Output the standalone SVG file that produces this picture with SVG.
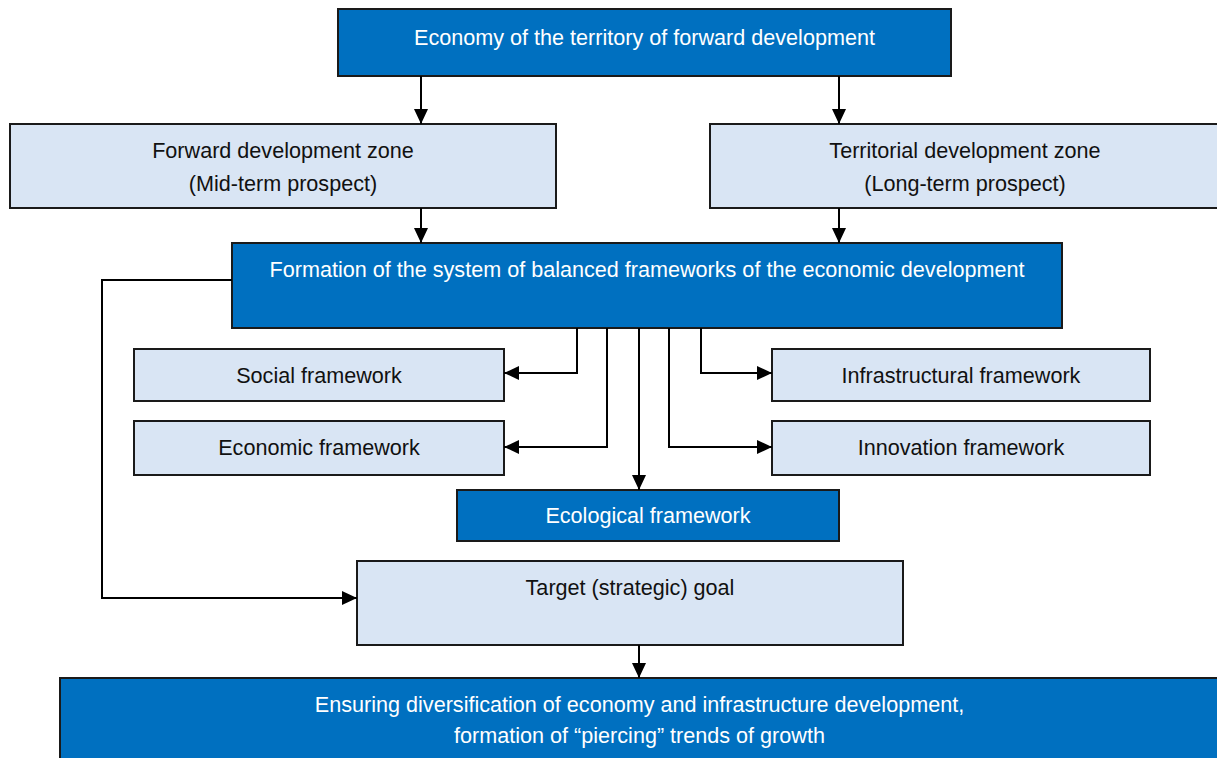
<svg xmlns="http://www.w3.org/2000/svg" width="1217" height="758" viewBox="0 0 1217 758">
<style>
  .dark{fill:#0070C0;stroke:#1a1a1a;stroke-width:2}
  .light{fill:#D9E5F4;stroke:#1a1a1a;stroke-width:2}
  text{font-family:"Liberation Sans",Arial,sans-serif;font-size:21.6px;text-anchor:middle}
  .tw{fill:#ffffff}
  .tb{fill:#111111}
  .conn{fill:none;stroke:#000;stroke-width:2}
</style>
<defs>
  <marker id="arr" markerUnits="userSpaceOnUse" markerWidth="15" markerHeight="14" refX="15" refY="7" orient="auto">
    <path d="M0,0 L15,7 L0,14 Z" fill="#000"/>
  </marker>
</defs>
<rect x="0" y="0" width="1217" height="758" fill="#ffffff"/>

<g id="n-economy">
  <rect class="dark" x="338" y="9" width="613" height="67"/>
  <text class="tw" x="644.5" y="45">Economy of the territory of forward development</text>
</g>
<g id="n-forward">
  <rect class="light" x="10" y="124" width="546" height="84"/>
  <text class="tb" x="283" y="158">Forward development zone</text>
  <text class="tb" x="283" y="191">(Mid-term prospect)</text>
</g>
<g id="n-territorial">
  <rect class="light" x="710" y="124" width="510" height="84"/>
  <text class="tb" x="965" y="158">Territorial development zone</text>
  <text class="tb" x="965" y="191">(Long-term prospect)</text>
</g>
<g id="n-formation">
  <rect class="dark" x="232" y="243" width="830" height="85"/>
  <text class="tw" x="647" y="277">Formation of the system of balanced frameworks of the economic development</text>
</g>
<g id="n-social">
  <rect class="light" x="134" y="349" width="370" height="52"/>
  <text class="tb" x="319" y="383">Social framework</text>
</g>
<g id="n-economic">
  <rect class="light" x="134" y="421" width="370" height="54"/>
  <text class="tb" x="319" y="455">Economic framework</text>
</g>
<g id="n-infra">
  <rect class="light" x="772" y="349" width="378" height="52"/>
  <text class="tb" x="961" y="383">Infrastructural framework</text>
</g>
<g id="n-innovation">
  <rect class="light" x="772" y="421" width="378" height="54"/>
  <text class="tb" x="961" y="455">Innovation framework</text>
</g>
<g id="n-ecological">
  <rect class="dark" x="457" y="490" width="382" height="51"/>
  <text class="tw" x="648" y="523">Ecological framework</text>
</g>
<g id="n-target">
  <rect class="light" x="357" y="561" width="546" height="84"/>
  <text class="tb" x="630" y="595">Target (strategic) goal</text>
</g>
<g id="n-ensuring">
  <rect class="dark" x="60" y="678" width="1160" height="90"/>
  <text class="tw" x="639.5" y="712">Ensuring diversification of economy and infrastructure development,</text>
  <text class="tw" x="639.5" y="743">formation of “piercing” trends of growth</text>
</g>

<g id="connectors">
  <path class="conn" d="M421,76 V124" marker-end="url(#arr)"/>
  <path class="conn" d="M839,76 V124" marker-end="url(#arr)"/>
  <path class="conn" d="M421,208 V243" marker-end="url(#arr)"/>
  <path class="conn" d="M839,208 V243" marker-end="url(#arr)"/>
  <path class="conn" d="M577,328 V373 H504" marker-end="url(#arr)"/>
  <path class="conn" d="M607,328 V447 H504" marker-end="url(#arr)"/>
  <path class="conn" d="M639,328 V490" marker-end="url(#arr)"/>
  <path class="conn" d="M669,328 V447 H772" marker-end="url(#arr)"/>
  <path class="conn" d="M701,328 V373 H772" marker-end="url(#arr)"/>
  <path class="conn" d="M232,280 H102 V598 H357" marker-end="url(#arr)"/>
  <path class="conn" d="M639,645 V678" marker-end="url(#arr)"/>
</g>
</svg>
